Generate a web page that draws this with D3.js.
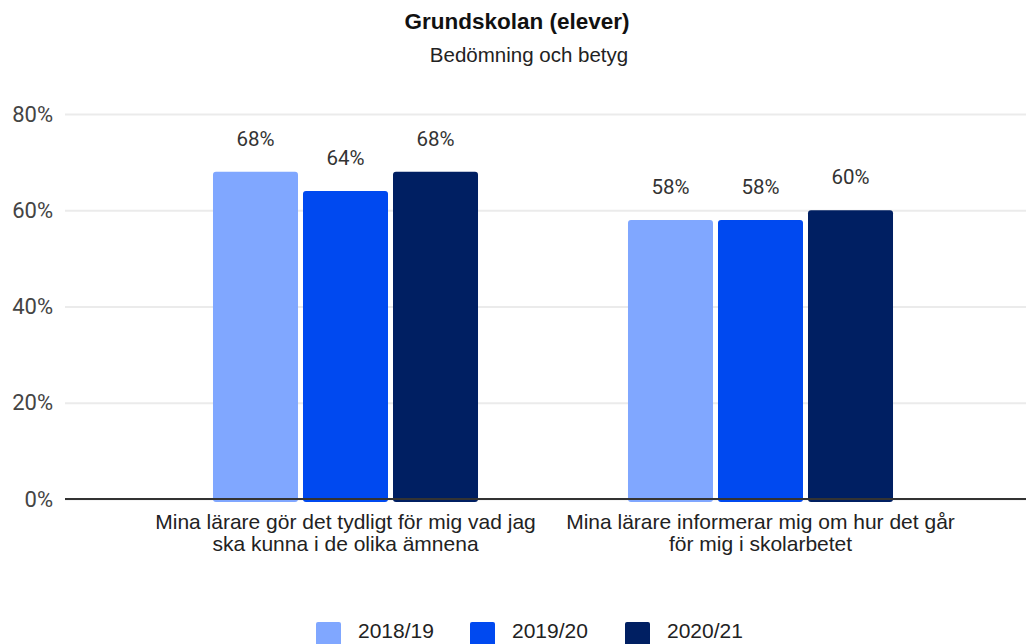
<!DOCTYPE html>
<html>
<head>
<meta charset="utf-8">
<script src="https://cdn.jsdelivr.net/npm/d3@7"></script>
<style>
  body { margin: 0; background: #fff; }
  .grid line { stroke: #ebebeb; stroke-width: 2; }
  .grid path { display: none; }
  .tick text { font-family: Roboto, sans-serif; font-size: 22px; fill: #444; }
</style>
</head>
<body>
<div id="chart"></div>
<script>
// data
var categories = [
  ["Mina lärare gör det tydligt för mig vad jag", "ska kunna i de olika ämnena"],
  ["Mina lärare informerar mig om hur det går", "för mig i skolarbetet"]
];
var years = ["2018/19", "2019/20", "2020/21"];
var values2018 = [68, 58];
var values2019 = [64, 58];
var values2020 = [68, 60];
var yTicks = [0, 20, 40, 60, 80];
var colors = ["#80a7ff", "#0049f0", "#001f62"];

var series = [values2018, values2019, values2020];
var W = 1026, H = 644;

var svg = d3.select("#chart").append("svg")
    .attr("width", W)
    .attr("height", H);

var x0 = d3.scaleBand()
    .domain([0, 1])
    .range([138, 968])
    .paddingInner(0.3614)
    .paddingOuter(0.1807);

var x1 = d3.scaleBand()
    .domain(years)
    .range([0, x0.bandwidth()])
    .paddingInner(0.0556);

var y = d3.scaleLinear()
    .domain([0, 80])
    .range([499, 114]);

var color = d3.scaleOrdinal().domain(years).range(colors);

// title
svg.append("text")
    .attr("x", 517).attr("y", 29)
    .attr("text-anchor", "middle")
    .style("font-family", "'Liberation Sans', Arial, sans-serif")
    .style("font-weight", "bold")
    .style("font-size", "22.5px")
    .style("fill", "#111")
    .text("Grundskolan (elever)");

svg.append("text")
    .attr("x", 529).attr("y", 62)
    .attr("text-anchor", "middle")
    .style("font-family", "'Liberation Sans', Arial, sans-serif")
    .style("font-size", "20.5px")
    .style("fill", "#222")
    .text("Bedömning och betyg");

// grid + y axis
svg.append("g")
    .attr("class", "grid")
    .attr("transform", "translate(65,0)")
    .call(d3.axisLeft(y).tickValues(yTicks).tickSize(-(W - 65)).tickFormat(function(d){ return d + "%"; }).tickPadding(12));

// bars
var groups = svg.selectAll(".group")
    .data(categories)
  .enter().append("g")
    .attr("class", "group")
    .attr("transform", function(d, i){ return "translate(" + x0(i) + ",0)"; });

function rows(d, i){
  return years.map(function(yr, j){ return {year: yr, value: series[j][i]}; });
}

groups.selectAll("rect")
    .data(rows)
  .enter().append("rect")
    .attr("x", function(d){ return x1(d.year); })
    .attr("y", function(d){ return y(d.value); })
    .attr("width", x1.bandwidth())
    .attr("height", function(d){ return y(0) - y(d.value) + 3; })
    .attr("rx", 3)
    .style("fill", function(d){ return color(d.year); });

groups.selectAll(".val")
    .data(rows)
  .enter().append("text")
    .attr("class", "val")
    .attr("x", function(d){ return x1(d.year) + x1.bandwidth() / 2; })
    .attr("y", function(d){ return y(d.value) - 26; })
    .attr("text-anchor", "middle")
    .style("font-family", "Roboto, sans-serif")
    .style("font-size", "20.5px")
    .style("fill", "#333")
    .text(function(d){ return d.value + "%"; });

// baseline
svg.append("line")
    .attr("x1", 65).attr("x2", W)
    .attr("y1", y(0)).attr("y2", y(0))
    .style("stroke", "#333")
    .style("stroke-width", 2);

// category labels
var catLabels = svg.selectAll(".cat")
    .data(categories)
  .enter().append("text")
    .attr("class", "cat")
    .attr("text-anchor", "middle")
    .style("font-family", "'Liberation Sans', Arial, sans-serif")
    .style("font-size", "21px")
    .style("fill", "#222");

catLabels.selectAll("tspan")
    .data(function(d, i){ return d.map(function(t){ return {t: t, i: i}; }); })
  .enter().append("tspan")
    .attr("x", function(d){ return x0(d.i) + x0.bandwidth() / 2; })
    .attr("y", function(d, k){ return 529 + k * 22; })
    .text(function(d){ return d.t; });

// legend
var legendX = [316, 470, 625];
var legend = svg.selectAll(".legend")
    .data(years)
  .enter().append("g")
    .attr("class", "legend")
    .attr("transform", function(d, i){ return "translate(" + legendX[i] + ",622)"; });

legend.append("rect")
    .attr("width", 25).attr("height", 24)
    .attr("rx", 2)
    .style("fill", function(d){ return color(d); });

legend.append("text")
    .attr("x", 42).attr("y", 16)
    .style("font-family", "'Liberation Sans', Arial, sans-serif")
    .style("font-size", "21px")
    .style("fill", "#222")
    .text(function(d){ return d; });
</script>
</body>
</html>
